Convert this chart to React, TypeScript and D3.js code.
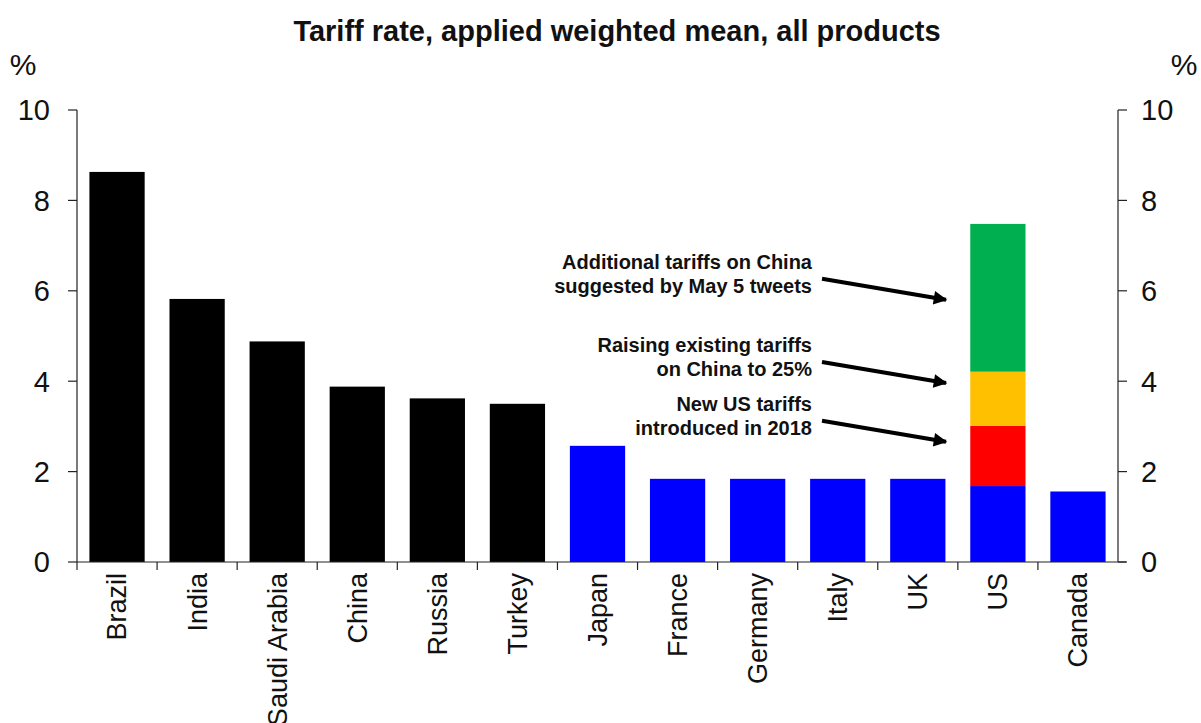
import React from "react";
import * as d3 from "d3";

const categories = ["Brazil", "India", "Saudi Arabia", "China", "Russia", "Turkey", "Japan", "France", "Germany", "Italy", "UK", "US", "Canada"];
const baseValues = [8.63, 5.82, 4.88, 3.88, 3.62, 3.5, 2.57, 1.84, 1.84, 1.84, 1.84, 1.68, 1.56];
const baseColors = ["#000000", "#000000", "#000000", "#000000", "#000000", "#000000", "#0000FF", "#0000FF", "#0000FF", "#0000FF", "#0000FF", "#0000FF", "#0000FF"];
const usExtraLabels = ["New US tariffs introduced in 2018", "Raising existing tariffs on China to 25%", "Additional tariffs on China suggested by May 5 tweets"];
const usExtraValues = [1.33, 1.2, 3.27];
const usExtraColors = ["#FF0000", "#FFC000", "#00B050"];
const yTicks = [0, 2, 4, 6, 8, 10];
const annotationLines = [
  ["Additional tariffs on China", "suggested by May 5 tweets"],
  ["Raising existing tariffs", "on China to 25%"],
  ["New US tariffs", "introduced in 2018"],
];
const annotationY = [5.8, 3.96, 2.66];

const W = 1201, H = 723;
const left = 77, right = 1118, top = 110, bottom = 562;

export default function App() {
  const x = d3.scaleBand<string>().domain(categories).range([left, right]).paddingInner(0.31).paddingOuter(0.155);
  const xb = d3.scaleBand<string>().domain(categories).range([left, right]);
  const y = d3.scaleLinear().domain([0, 10]).range([bottom, top]);
  const font = "Liberation Sans, Arial, sans-serif";

  const usIdx = categories.indexOf("US");
  let cum = baseValues[usIdx];
  const stacks = usExtraValues.map((v, i) => {
    const s = { y0: cum, y1: cum + v, color: usExtraColors[i], label: usExtraLabels[i] };
    cum += v;
    return s;
  });

  return (
    <svg width={W} height={H} style={{ position: "absolute", left: 0, top: 0, background: "#fff" }} fontFamily={font}>
      <defs>
        <marker id="ah" viewBox="0 0 10 10" refX="9" refY="5" markerWidth="4" markerHeight="3.4" orient="auto">
          <path d="M0,0 L10,5 L0,10 z" fill="#000" />
        </marker>
      </defs>
      <text x={617} y={41} textAnchor="middle" fontSize={29} fontWeight="bold" fill="#111">Tariff rate, applied weighted mean, all products</text>
      <text x={23} y={75} textAnchor="middle" fontSize={30} fill="#111">%</text>
      <text x={1184} y={75} textAnchor="middle" fontSize={30} fill="#111">%</text>

      {categories.map((c, i) => (
        <rect key={c} x={x(c)} y={y(baseValues[i])} width={x.bandwidth()} height={y(0) - y(baseValues[i])} fill={baseColors[i]} />
      ))}
      {stacks.map((s, i) => (
        <rect key={i} x={x("US")} y={y(s.y1)} width={x.bandwidth()} height={y(s.y0) - y(s.y1)} fill={s.color} />
      ))}

      {/* axes */}
      <line x1={left} x2={left} y1={y(10)} y2={y(0)} stroke="#222" strokeWidth={1.2} />
      <line x1={right} x2={right} y1={y(10)} y2={y(0)} stroke="#222" strokeWidth={1.2} />
      <line x1={left} x2={right + 8} y1={y(0)} y2={y(0)} stroke="#222" strokeWidth={1.2} />
      {yTicks.map((t) => (
        <g key={t}>
          <line x1={left - 9} x2={left} y1={y(t)} y2={y(t)} stroke="#222" strokeWidth={1.2} />
          <line x1={right} x2={right + 9} y1={y(t)} y2={y(t)} stroke="#222" strokeWidth={1.2} />
          <text x={50} y={y(t)} dy="0.36em" textAnchor="end" fontSize={29} fill="#111">{t}</text>
          <text x={1141} y={y(t)} dy="0.36em" textAnchor="start" fontSize={29} fill="#111">{t}</text>
        </g>
      ))}
      {categories.map((c) => (
        <line key={c} x1={xb(c)} x2={xb(c)} y1={bottom} y2={bottom + 8} stroke="#222" strokeWidth={1.2} />
      ))}
      {categories.map((c) => {
        const cx = (xb(c) as number) + xb.bandwidth() / 2;
        return (
          <text key={c} transform={`translate(${cx},${bottom + 11}) rotate(-90)`} textAnchor="end" dy="0.35em" fontSize={27} fill="#111">{c}</text>
        );
      })}

      {/* annotations */}
      {annotationLines.map((lines, i) => {
        const ty = y(annotationY[i]);
        return (
          <g key={i}>
            <text x={812} y={ty - 31} textAnchor="end" fontSize={20} fontWeight="bold" fill="#111">
              <tspan x={812} dy="0">{lines[0]}</tspan>
              <tspan x={812} dy="24">{lines[1]}</tspan>
            </text>
            <line x1={822} y1={ty - 21} x2={946} y2={ty} stroke="#000" strokeWidth={4} markerEnd="url(#ah)" />
          </g>
        );
      })}
    </svg>
  );
}
